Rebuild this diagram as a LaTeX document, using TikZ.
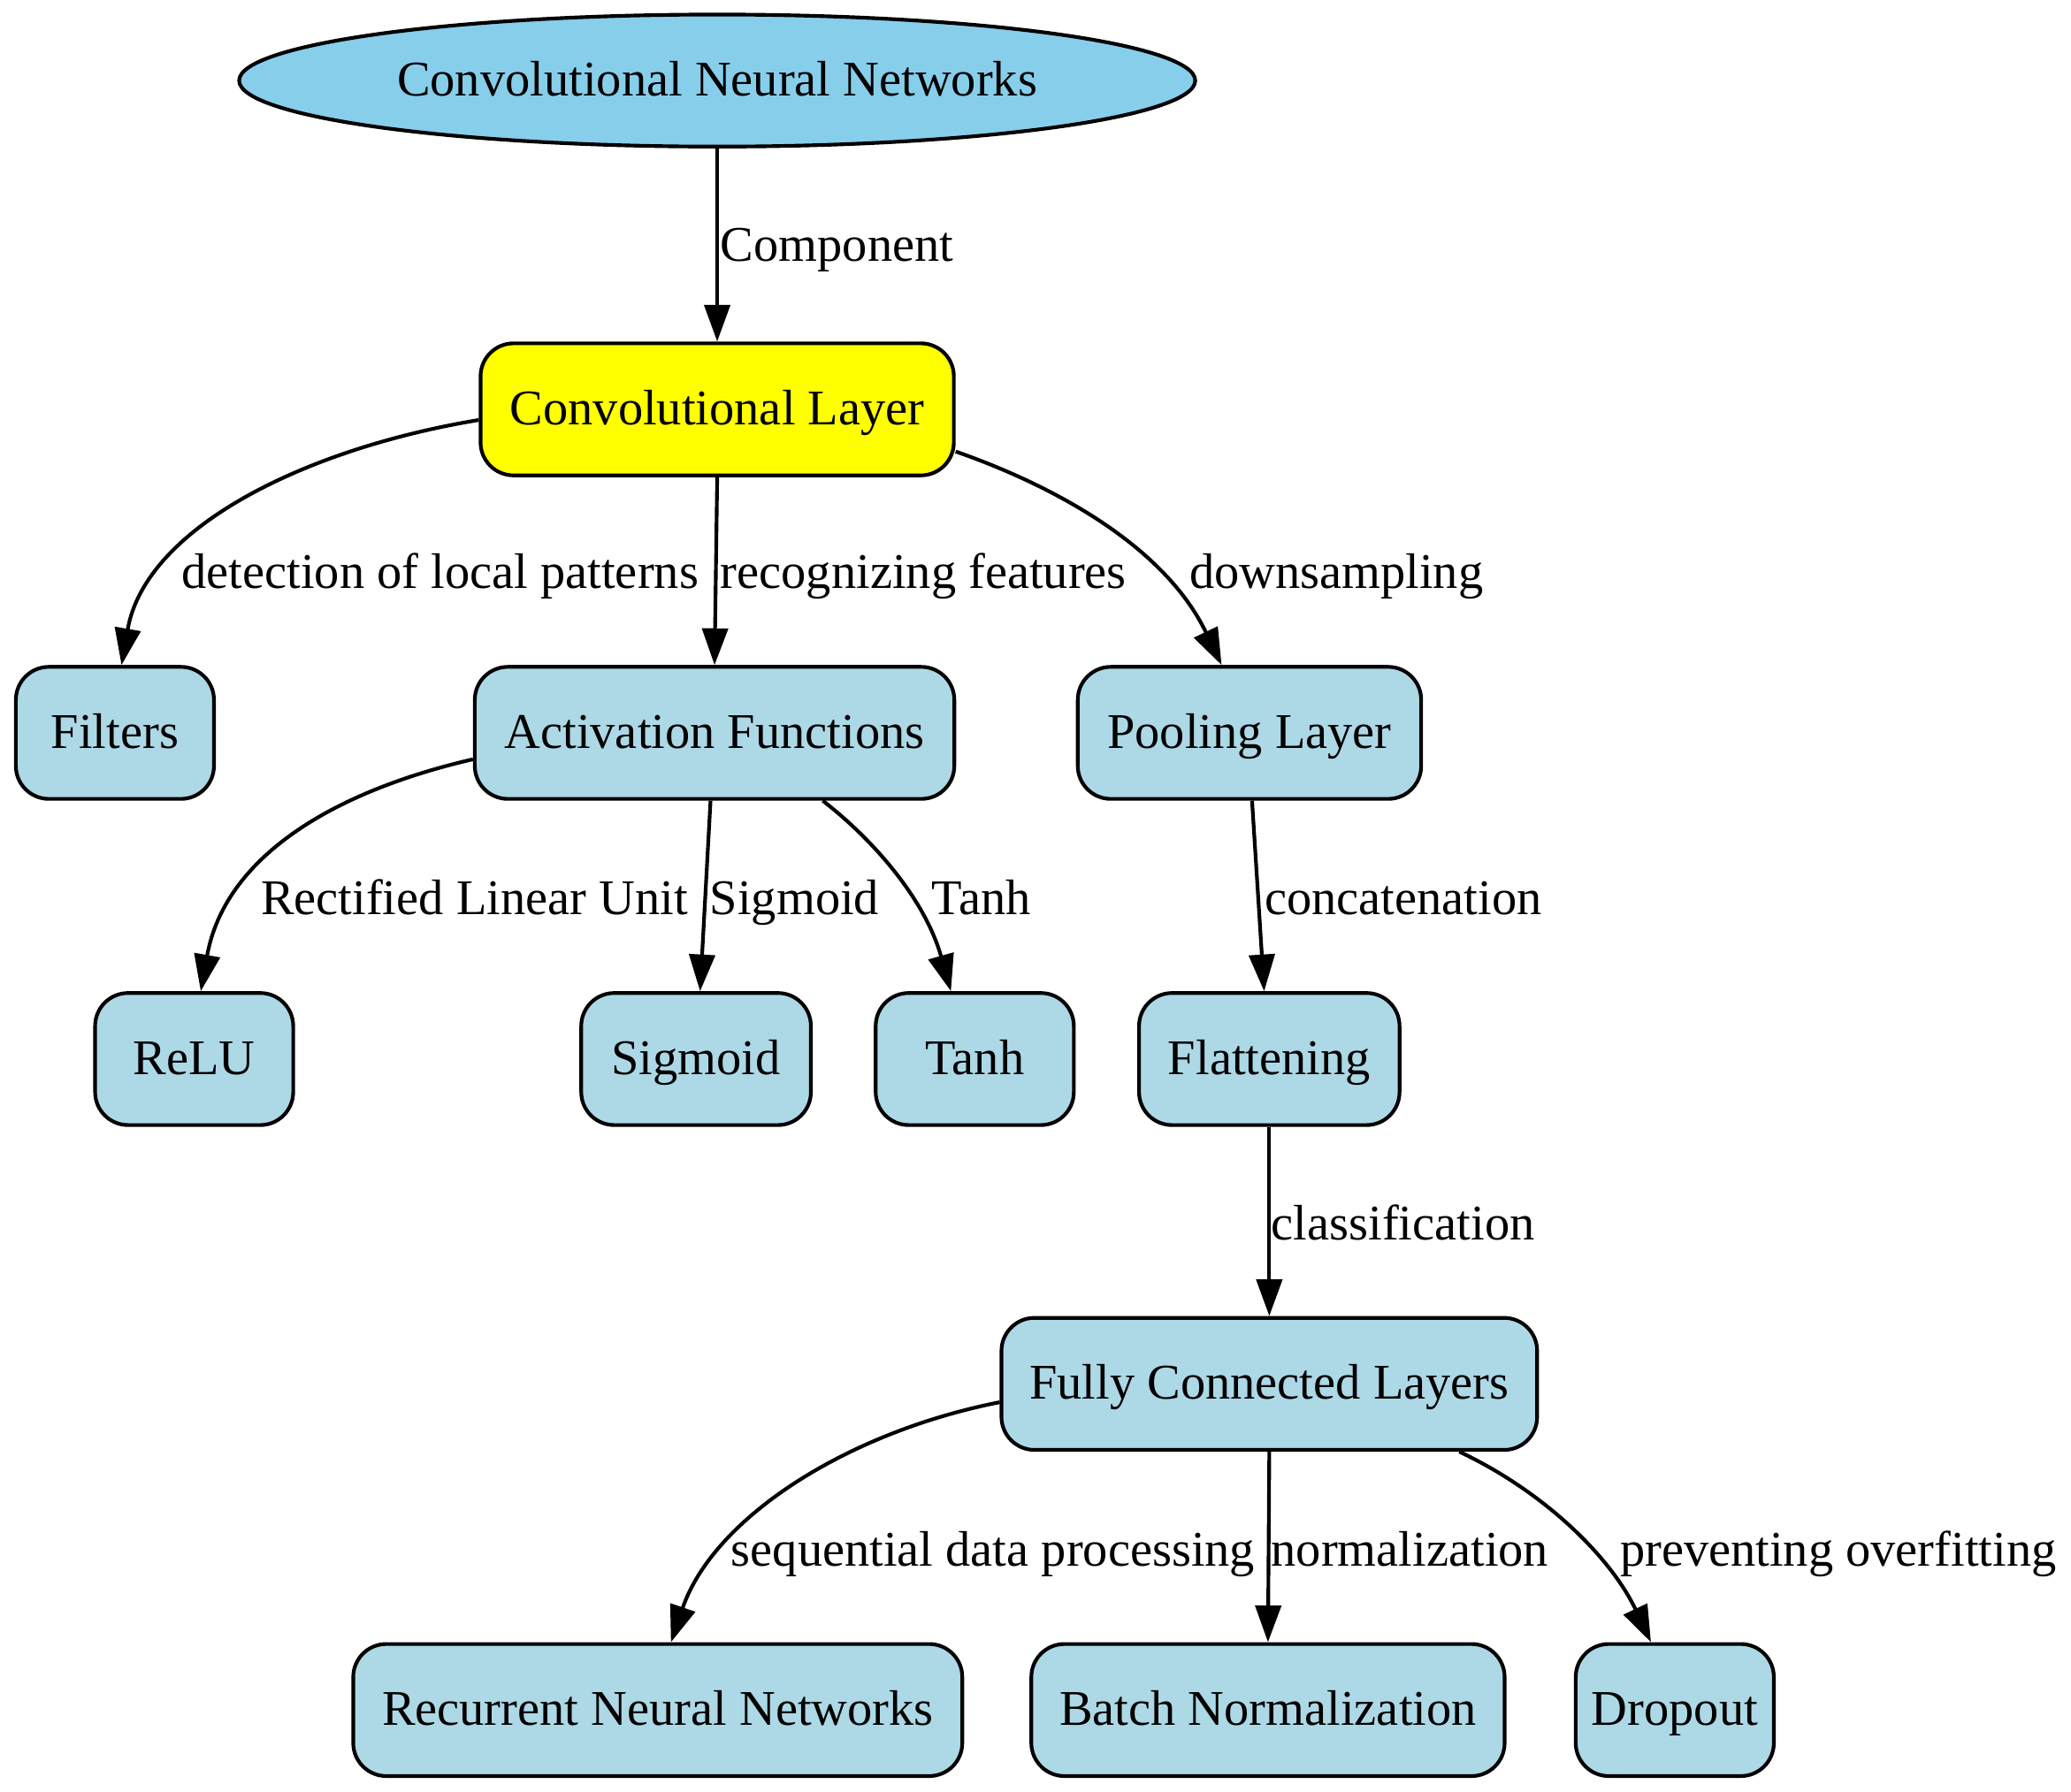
\documentclass[tikz,border=0pt]{standalone}
\usepackage{fontspec}
\setmainfont{Liberation Serif}
\usetikzlibrary{arrows.meta,shapes.geometric}
\definecolor{lb}{HTML}{ADD8E6}
\definecolor{sb}{HTML}{87CEEB}
\definecolor{yel}{HTML}{FFFF00}
\begin{document}
\begin{tikzpicture}[x=0.36pt,y=-0.36pt,
  txt/.style={font=\fontsize{13.6}{16}\selectfont,text height=9.5pt,text depth=1pt},
  box/.style={txt,draw,line width=1pt,rounded corners=9pt,fill=lb,minimum height=36pt,inner sep=0pt},
  edge/.style={line width=1pt,-{Triangle[length=10pt,width=7pt]}},
  lbl/.style={txt,anchor=west,inner sep=0pt}]
\useasboundingbox (0,0) rectangle (1568,1357);
% nodes
\node[txt,draw,line width=1pt,ellipse,fill=sb,minimum width=260.6pt,minimum height=36pt,inner sep=0pt] (cnn) at (543,61) {Convolutional Neural Networks};
\node[box,fill=yel,minimum width=129pt] (conv) at (543,310) {Convolutional Layer};
\node[box,minimum width=54pt] (filt) at (87,555) {Filters};
\node[box,minimum width=130.7pt] (act) at (541,555) {Activation Functions};
\node[box,minimum width=93.6pt] (pool) at (946,555) {Pooling Layer};
\node[box,minimum width=54pt] (relu) at (147,802) {ReLU};
\node[box,minimum width=62.6pt] (sig) at (527,802) {Sigmoid};
\node[box,minimum width=54pt] (tanh) at (738,802) {Tanh};
\node[box,minimum width=71pt] (flat) at (961,802) {Flattening};
\node[box,minimum width=146pt] (fcl) at (961,1048) {Fully Connected Layers};
\node[box,minimum width=166pt] (rnn) at (498,1295) {Recurrent Neural Networks};
\node[box,minimum width=129pt] (bn) at (960,1295) {Batch Normalization};
\node[box,minimum width=54pt] (drop) at (1268,1295) {Dropout};
% edges
\draw[edge] (cnn.south) -- (conv.north);
\node[lbl] (l1) at (545,186) {Component};
\draw[edge] ([yshift=-2.9pt]conv.west) .. controls (230,340) and (110,400) .. ([xshift=1.8pt]filt.north);
\node[lbl] (l2) at (137,434) {detection of local patterns};
\draw[edge] (conv.south) -- (act.north);
\node[lbl] (l3) at (545,434) {recognizing features};
\draw[edge] ([yshift=-11.5pt]conv.east) .. controls (790,365) and (880,410) .. ([xshift=-7.6pt]pool.north);
\node[lbl] (l4) at (900,434) {downsampling};
\draw[edge] ([yshift=-7.2pt]act.west) .. controls (250,600) and (170,650) .. ([xshift=1.8pt]relu.north);
\node[lbl] (l5) at (197,681) {Rectified Linear Unit};
\draw[edge] ([xshift=-1.1pt]act.south) -- ([xshift=1.1pt]sig.north);
\node[lbl] (l6) at (537,681) {Sigmoid};
\draw[edge] ([xshift=29.5pt]act.south) .. controls (660,635) and (700,680) .. ([xshift=-6.5pt]tanh.north);
\node[lbl] (l7) at (705,681) {Tanh};
\draw[edge] ([xshift=0.7pt]pool.south) -- ([xshift=-1.4pt]flat.north);
\node[lbl] (l8) at (957,681) {concatenation};
\draw[edge] (flat.south) -- (fcl.north);
\node[lbl] (l9) at (962,927) {classification};
\draw[edge] ([yshift=-5pt]fcl.west) .. controls (640,1085) and (540,1150) .. ([xshift=3.6pt]rnn.north);
\node[lbl] (l10) at (553,1174) {sequential data processing};
\draw[edge] (fcl.south) -- (bn.north);
\node[lbl] (l11) at (962,1174) {normalization};
\draw[edge] ([xshift=51.8pt]fcl.south) .. controls (1170,1130) and (1220,1180) .. ([xshift=-6.5pt]drop.north);
\node[lbl] (l12) at (1226,1174) {preventing overfitting};
\end{tikzpicture}
\end{document}
